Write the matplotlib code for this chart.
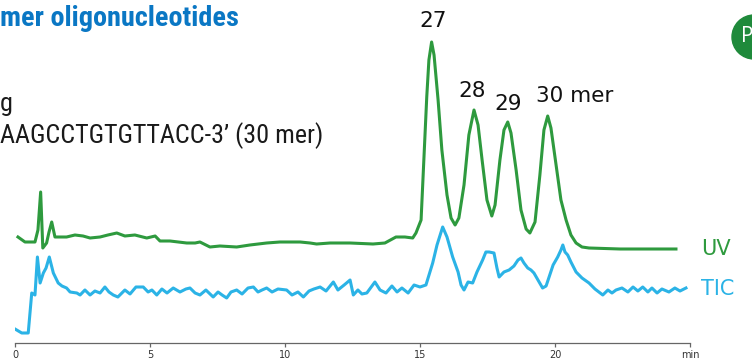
import matplotlib.pyplot as plt
from matplotlib import font_manager
from matplotlib.patches import Ellipse

# UV trace (tiempo en min, altura en unidades arbitrarias)
uv_t = [0.11, 0.37, 0.74, 0.85, 0.95, 1.03, 1.17, 1.26, 1.36, 1.48, 1.67, 1.91, 2.22, 2.52, 2.78,
        3.15, 3.44, 3.77, 4.07, 4.44, 4.88, 5.19, 5.37, 5.74, 6.36, 6.67, 6.85, 7.22, 7.59, 8.21,
        8.70, 9.32, 9.81, 10.56, 10.93, 11.17, 11.67, 12.41, 13.26, 13.70, 14.11, 14.44, 14.73,
        14.85, 15.04, 15.25, 15.33, 15.43, 15.52, 15.67, 15.81, 16.00, 16.15, 16.30, 16.44, 16.63,
        16.81, 17.00, 17.15, 17.30, 17.48, 17.66, 17.78, 17.96, 18.11, 18.25, 18.37, 18.56, 18.74,
        18.93, 19.07, 19.26, 19.44, 19.59, 19.73, 19.85, 20.04, 20.22, 20.41, 20.59, 20.78, 21.00,
        21.26, 22.41, 23.52, 24.48]
uv_y = [106, 101, 101, 113, 151, 95, 100, 111, 121, 106, 106, 106, 108, 107, 105,
        106, 108, 110, 107, 108, 105, 107, 102, 102, 100, 100, 101, 96, 97, 96,
        98, 100, 101, 101, 100, 99, 100, 100, 99, 100, 106, 106, 105,
        110, 123, 246, 283, 301, 288, 243, 193, 148, 125, 118, 125, 158,
        208, 233, 218, 183, 143, 127, 138, 183, 213, 221, 210, 173, 133,
        114, 110, 121, 168, 213, 227, 215, 178, 143, 123, 108, 100, 96,
        95, 94, 94, 94]

# TIC trace
tic_t = [0.00, 0.25, 0.49, 0.62, 0.74, 0.83, 0.93, 1.05, 1.15, 1.27, 1.42, 1.60, 1.74, 1.91, 2.04,
         2.29, 2.41, 2.59, 2.78, 2.96, 3.15, 3.33, 3.48, 3.64, 3.81, 4.07, 4.26, 4.48, 4.75, 4.93,
         5.07, 5.25, 5.44, 5.63, 5.86, 6.11, 6.33, 6.48, 6.67, 6.85, 7.07, 7.34, 7.52, 7.67, 7.84,
         8.00, 8.21, 8.41, 8.63, 8.83, 9.00, 9.15, 9.32, 9.52, 9.74, 10.06, 10.26, 10.48, 10.68,
         10.89, 11.07, 11.30, 11.52, 11.79, 11.96, 12.19, 12.41, 12.53, 12.70, 12.85, 13.03, 13.22,
         13.33, 13.52, 13.74, 13.96, 14.15, 14.33, 14.56, 14.78, 15.00, 15.22, 15.47, 15.63, 15.84,
         16.00, 16.21, 16.41, 16.52, 16.63, 16.78, 16.95, 17.11, 17.32, 17.44, 17.56, 17.74, 17.85,
         17.93, 18.11, 18.30, 18.48, 18.63, 18.74, 18.85, 18.99, 19.11, 19.22, 19.37, 19.54, 19.67,
         19.78, 19.93, 20.10, 20.22, 20.29, 20.37, 20.47, 20.59, 20.78, 21.00, 21.26, 21.48, 21.77,
         21.96, 22.11, 22.26, 22.48, 22.70, 22.89, 23.07, 23.25, 23.44, 23.59, 23.78, 23.96, 24.22,
         24.44, 24.63, 24.85]
tic_y = [14, 10, 10, 50, 48, 86, 60, 70, 75, 86, 70, 60, 57, 55, 51,
         50, 48, 53, 48, 52, 50, 56, 51, 48, 46, 53, 49, 56, 56, 51,
         53, 48, 54, 50, 55, 51, 54, 55, 50, 48, 53, 46, 51, 48, 45,
         51, 53, 49, 55, 56, 51, 53, 55, 51, 54, 53, 48, 51, 46,
         52, 54, 56, 52, 61, 53, 58, 63, 48, 53, 49, 50, 57,
         61, 53, 50, 57, 51, 55, 50, 58, 56, 58, 80, 98, 116,
         106, 86, 71, 58, 53, 61, 60, 71, 83, 91, 91, 90, 75,
         66, 71, 73, 77, 83, 85, 80, 75, 73, 70, 63, 55, 57,
         66, 78, 86, 93, 98, 91, 88, 81, 71, 65, 60, 54, 48,
         53, 50, 53, 55, 51, 56, 52, 56, 51, 55, 50, 54, 51,
         55, 52, 55]

xticks = [0, 5, 10, 15, 20, 25]
xtick_labels = ['0', '5', '10', '15', '20', 'min']

# etiquetas de los picos (texto, tiempo del borde izquierdo, altura de la linea base)
peak_labels = ['27', '28', '29', '30 mer']
peak_x = [14.96, 16.41, 17.74, 19.30]
peak_y = [316, 246, 233, 241]

green = '#2e9a3e'
blue = '#2bb3e6'

# fuente estrecha para la cabecera si existe
names = {f.name for f in font_manager.fontManager.ttflist}
narrow = None
for cand in ['Liberation Sans Narrow', 'DejaVu Sans Condensed', 'Roboto Condensed']:
    if cand in names:
        narrow = cand
        break
if narrow:
    head_font, head_size, title_size = narrow, 18.8, 20.3
else:
    head_font, head_size, title_size = 'Open Sans', 16.5, 16.3

W, H = 752, 361
fig = plt.figure(figsize=(W / 100, H / 100), dpi=100)
ax = fig.add_axes([15 / W, 18 / H, 675 / W, 343 / H])

ax.plot(uv_t, uv_y, color=green, lw=2.2, solid_joinstyle='round')
ax.plot(tic_t, tic_y, color=blue, lw=2.2, solid_joinstyle='round')

ax.set_xlim(0, 25)
ax.set_ylim(0, 343)
for s in ['top', 'right', 'left']:
    ax.spines[s].set_visible(False)
ax.spines['bottom'].set_color('#666666')
ax.spines['bottom'].set_linewidth(0.9)
ax.set_yticks([])
ax.set_xticks(xticks)
ax.set_xticklabels(xtick_labels)
ax.tick_params(axis='x', direction='out', length=3, width=0.9, color='#666666',
               labelsize=7, labelcolor='#333333', pad=2)

for lab, px, py in zip(peak_labels, peak_x, peak_y):
    ax.text(px, py, lab, ha='left', va='baseline', fontsize=15.5, family='DejaVu Sans',
            color='#111111')

# etiquetas de las trazas
fig.text(701 / W, 1 - 255 / H, 'UV', color=green, fontsize=15, va='baseline', family='DejaVu Sans')
fig.text(701 / W, 1 - 295 / H, 'TIC', color=blue, fontsize=15, va='baseline', family='DejaVu Sans')

# textos de cabecera (recortados en el original)
fig.text(0, 1 - 26 / H, 'mer oligonucleotides', color='#0a77c4', fontsize=title_size,
         fontweight='bold', family=head_font, va='baseline')
fig.text(0, 1 - 111 / H, 'g', color='#1a1a1a', fontsize=head_size, family=head_font,
         va='baseline')
fig.text(0, 1 - 143 / H, 'AAGCCTGTGTTACC-3\u2019 (30 mer)', color='#1a1a1a', fontsize=head_size,
         family=head_font, va='baseline')

# circulo verde en la esquina
fig.add_artist(Ellipse((754 / W, 1 - 37 / H), 44 / W, 44 / H, transform=fig.transFigure,
                       color='#1f8a3b', zorder=5))
fig.text(741 / W, 1 - 37 / H, 'P', color='white', fontsize=15, va='center', zorder=6,
         family='Open Sans')

fig.savefig('out.png', dpi=100)
